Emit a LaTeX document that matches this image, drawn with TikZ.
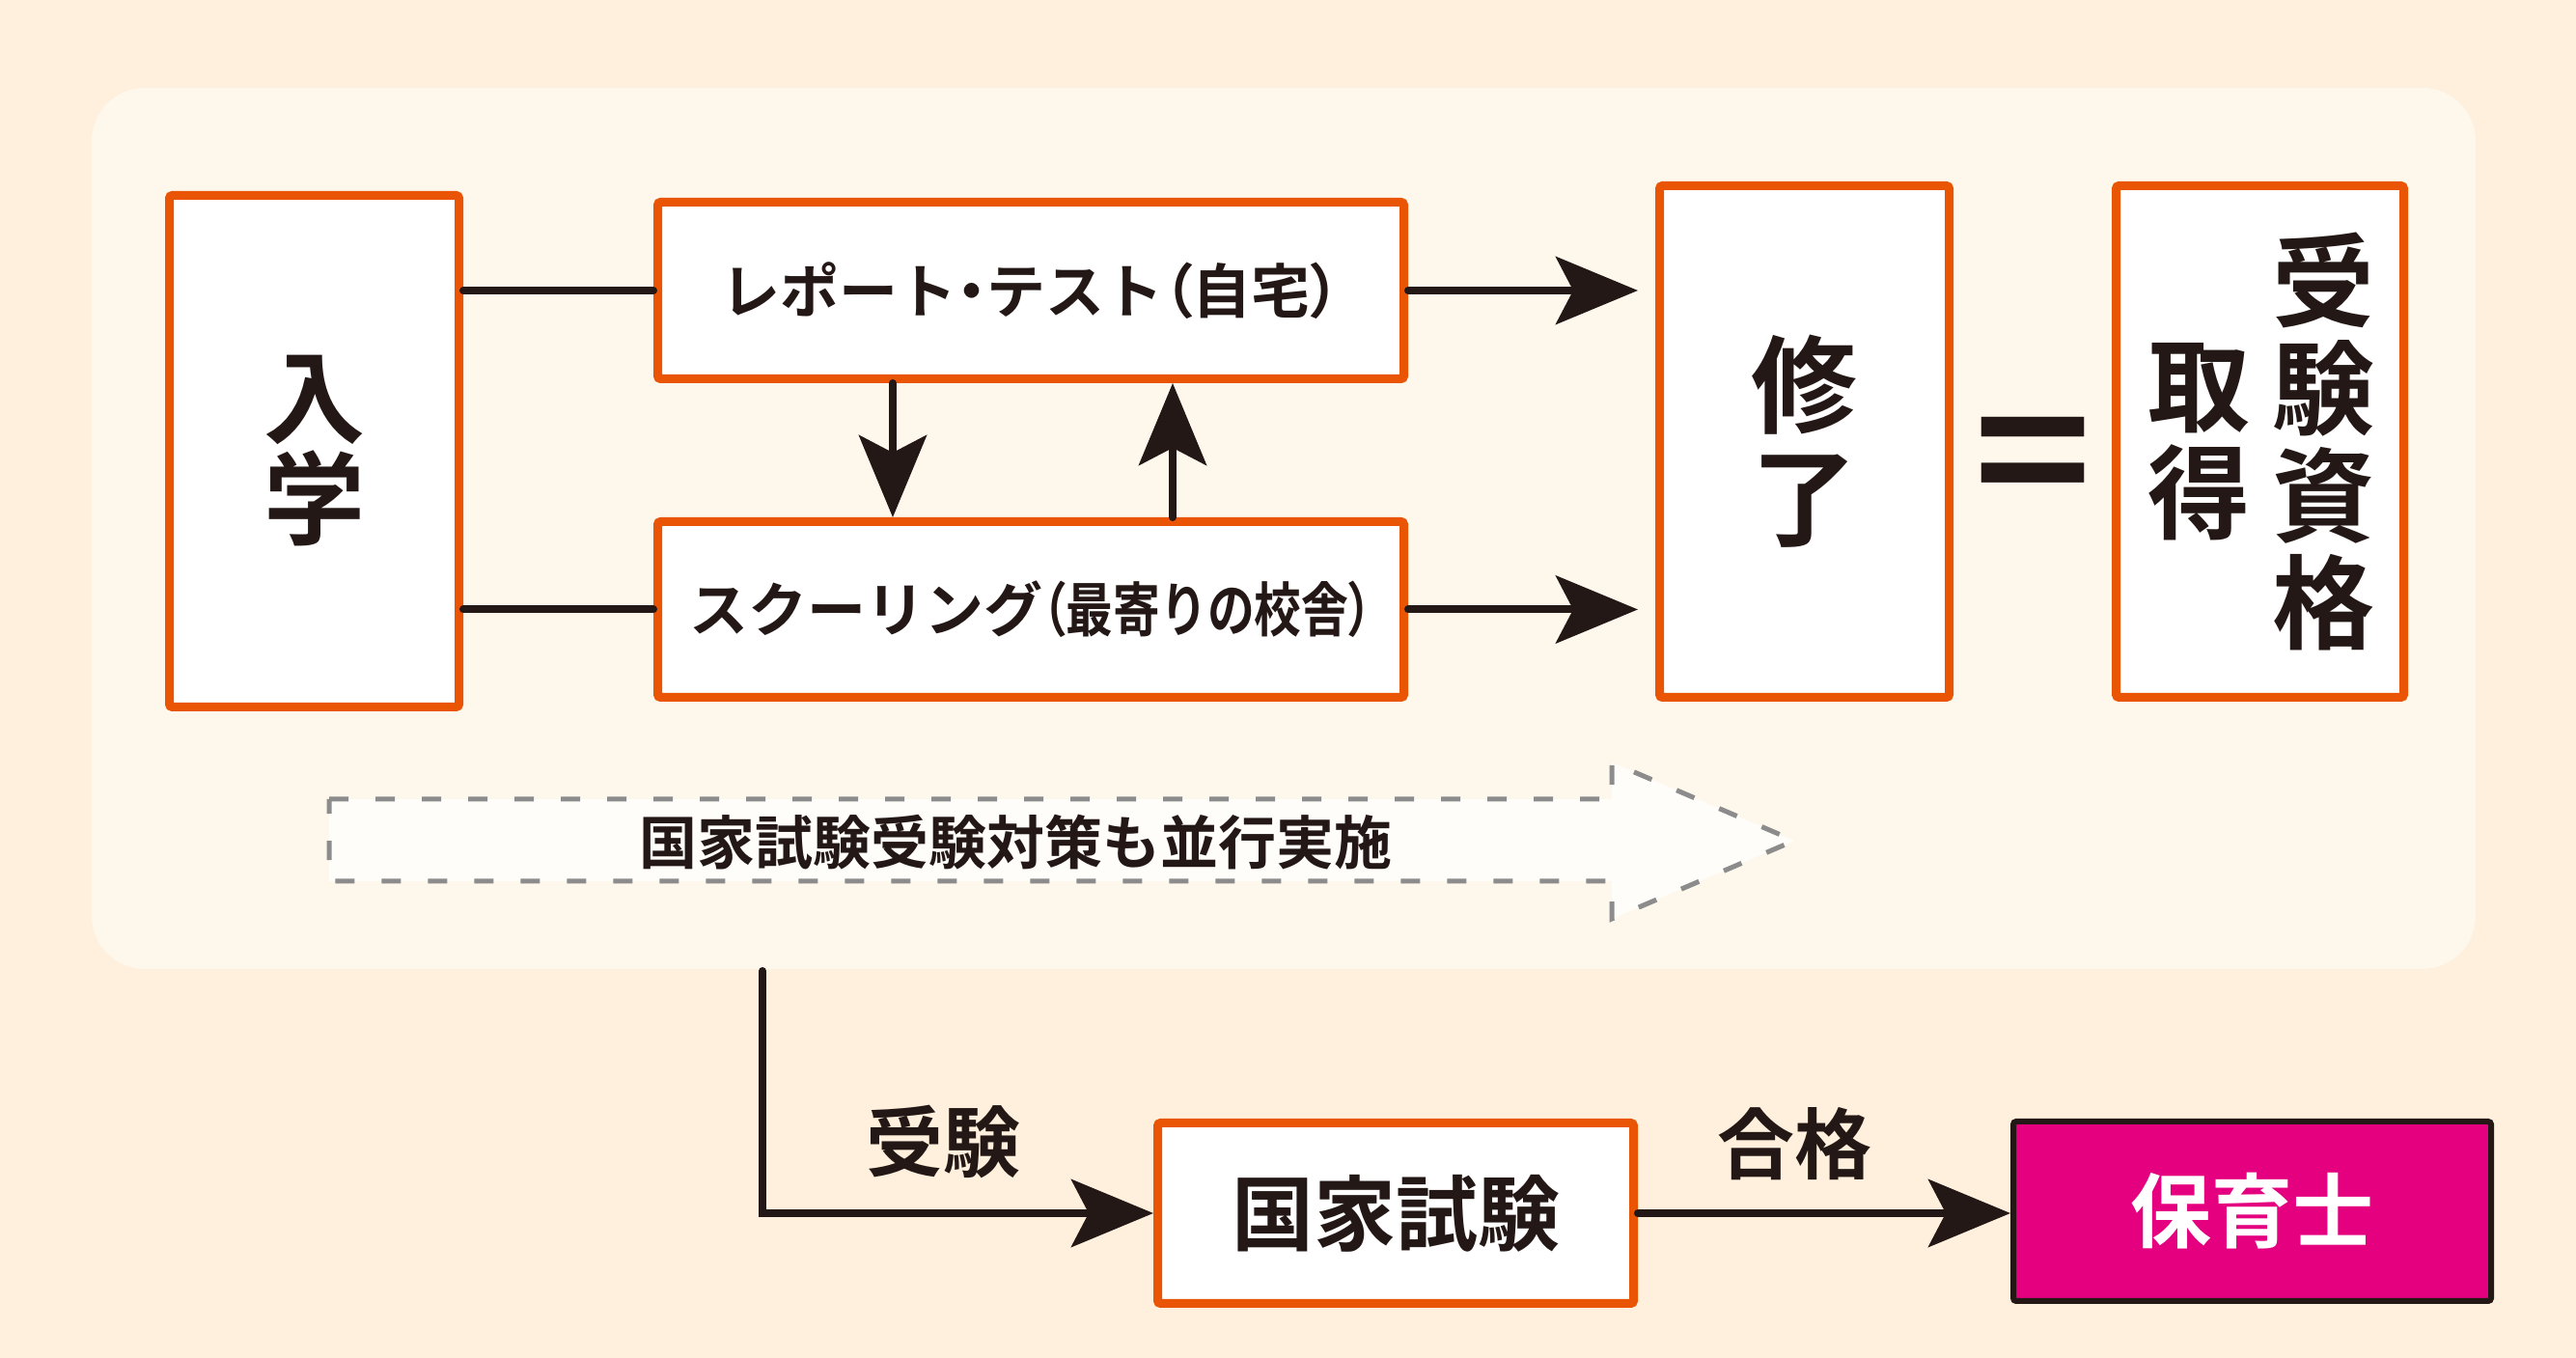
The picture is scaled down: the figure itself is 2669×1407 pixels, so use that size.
\documentclass[tikz,border=0pt]{standalone}
\usepackage{fontspec}
\setmainfont{Noto Sans CJK JP}[UprightFont=* Bold]
\newfontfamily\kana{Noto Sans CJK JP}[UprightFont=* Bold, RawFeature=+palt]
\usetikzlibrary{calc,positioning}
\usetikzlibrary{arrows.meta}
\definecolor{bgbase}{HTML}{FEF0DC}
\definecolor{bgpanel}{HTML}{FEF7EC}
\definecolor{frameorange}{HTML}{E95504}
\definecolor{inkdark}{HTML}{231815}
\definecolor{nursepink}{HTML}{E4007F}
\definecolor{hintgray}{HTML}{8C8C8C}
\newcommand{\jpsize}[2]{\fontsize{#1}{#2}\selectfont}
\tikzstyle{entry}=[draw=frameorange, line width=9pt, fill=white, rounded corners=3pt, align=center, text=inkdark]
\tikzstyle{tall}=[entry, minimum width=300pt, minimum height=530pt]
\tikzstyle{study}=[entry, minimum width=773pt, minimum height=183pt]
\tikzstyle{exambox}=[entry, minimum width=493pt, minimum height=187pt]
\tikzstyle{goal}=[entry, draw=inkdark, line width=6pt, fill=nursepink, text=white, minimum width=495pt, minimum height=186pt]
\tikzstyle{flow}=[draw=inkdark, line width=8pt, line cap=round]
\tikzstyle{arrow}=[flow, -{Stealth[length=85pt, width=70pt, inset=18pt]}]
\tikzstyle{hint}=[draw=hintgray, line width=5pt, dash pattern=on 20pt off 28pt, fill=white!70!bgpanel]
\tikzstyle{tag}=[text=inkdark, inner sep=0pt, align=center]

\begin{document}
\begin{tikzpicture}[x=1pt, y=1pt]
\fill [bgbase] (0,0) rectangle (2669,1407);
\node (panel) [fill=bgpanel, rounded corners=55pt, minimum width=2470pt, minimum height=913pt] at (1330,859.5) {};

\node (enroll) [tall, font=\jpsize{105}{105}] at (325.5,939.5) {入\\学};
\node (report) [study, font=\jpsize{61}{61}] at (1068,1106) {レポート{\kana ・}テスト{\kana（}自宅{\kana）}};
\node (school) [study, minimum height=182pt, font=\jpsize{61}{61}] at (1068,775.5) {スクーリング\scalebox{0.8}[1]{{\kana（}最寄りの校舎{\kana）}}};
\node (finish) [tall, font=\jpsize{110}{117}] at (1869.5,949.5) {修\\了};
\node (qualify) [tall, minimum width=298pt] at (2341.5,949.5) {};
\node (qualify1) [tag, font=\jpsize{106}{111}] at ([xshift=65.5pt]qualify.center) {受\\験\\資\\格};
\node (qualify2) [tag, font=\jpsize{106}{111}] at ([xshift=-63.5pt]qualify.center) {取\\得};
\node (equal) [tag, font=\jpsize{150}{150}] at (2106,918) {\scalebox{1}[1.35]{＝}};

% dashed hint arrow
\filldraw [hint] (341,579) -- (1670,579) -- (1670,617) -- (1859,536) -- (1670,455) -- (1670,494) -- (341,494) -- cycle;
\node (hinttext) [tag, font=\jpsize{60}{60}] at (1052,534) {国家試験受験対策も並行実施};

\node (exam) [exambox, font=\jpsize{85}{85}] at (1446,150) {国家試験};
\node (nurse) [goal, font=\jpsize{84}{84}] at (2333.5,152) {保育士};

\draw [flow] (enroll.east |- report.west) -- (report.west);
\draw [flow] (enroll.east |- school.west) -- (school.west);
\draw [arrow, shorten >=18pt] (report.east) -- (report.east -| finish.west);
\draw [arrow, shorten >=18pt] (school.east) -- (school.east -| finish.west);
\draw [arrow] ([xshift=-143pt]report.south) -- ([xshift=-143pt]report.south |- school.north);
\draw [arrow] ([xshift=147pt]school.north) -- ([xshift=147pt]school.north |- report.south);

\coordinate (drop) at (790,401);
\draw [arrow] (drop) |- node [tag, pos=0.75, xshift=-15pt, yshift=74pt, font=\jpsize{80}{80}] (takeexam) {受験} (exam.west);
\draw [arrow] (exam.east) -- node [tag, xshift=-31pt, yshift=72pt, font=\jpsize{80}{80}] (pass) {合格} (exam.east -| nurse.west);
\end{tikzpicture}
\end{document}
